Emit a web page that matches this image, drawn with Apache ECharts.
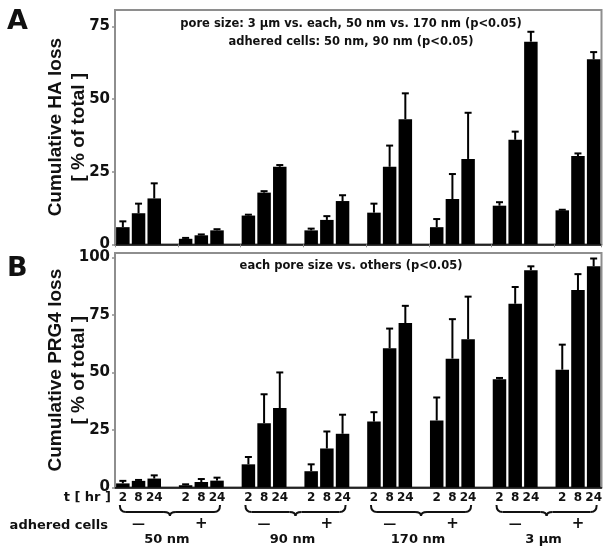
<!DOCTYPE html>
<html><head><meta charset="utf-8">
<script src="https://cdn.jsdelivr.net/npm/echarts@6/dist/echarts.min.js"></script>
<style>html,body{margin:0;padding:0;background:#fff}#c{width:612px;height:556px}</style>
</head><body><div id="c"></div>
<script>
const timeLabels = ['2', '8', '24'];
const poreSizes = ['50 nm', '90 nm', '170 nm', '3 µm'];
const adheredMarks = ['—', '+'];
const annotA = ['pore size: 3 µm vs. each, 50 nm vs. 170 nm (p<0.05)', 'adhered cells: 50 nm, 90 nm (p<0.05)'];
const annotB = 'each pore size vs. others (p<0.05)';
const titleA = 'Cumulative HA loss\n[ % of total ]';
const titleB = 'Cumulative PRG4 loss\n[ % of total ]';

// order: 50nm(-), 50nm(+), 90nm(-), 90nm(+), 170nm(-), 170nm(+), 3um(-), 3um(+); each 2, 8, 24 hr
const haMean  = [5.9, 10.7, 15.8,  1.9, 3.1, 4.8,  9.9, 17.8, 26.7,  4.8, 8.4, 14.9,
                 10.9, 26.7, 43.1,  5.9, 15.6, 29.4,  13.3, 36.0, 69.8,  11.7, 30.4, 63.7];
const haUpper = [7.9, 14.0, 21.0,  2.2, 3.4, 5.2,  10.2, 18.3, 27.3,  5.4, 9.7, 16.9,
                 14.0, 34.0, 52.0,  8.7, 24.2, 45.3,  14.5, 38.8, 73.2,  11.9, 31.3, 66.2];
const prgMean  = [1.7, 2.8, 3.8,  0.9, 2.3, 2.9,  10.0, 27.9, 34.5,  7.0, 16.9, 23.3,
                  28.6, 60.5, 71.5,  29.1, 56.0, 64.5,  47.0, 79.9, 94.5,  51.2, 85.9, 96.2];
const prgUpper = [2.8, 3.2, 5.2,  1.3, 3.6, 4.2,  13.2, 40.5, 50.0,  10.0, 24.3, 31.6,
                  32.7, 69.1, 79.0,  39.1, 73.2, 83.0,  47.6, 87.2, 96.2,  62.1, 92.8, 99.6];

// slots: 8 groups of 3 bars, separated by one empty slot
const slotLabels = [];
const slotOf = [];
for (let g = 0; g < 8; g++) {
  for (let t = 0; t < 3; t++) { slotOf.push(slotLabels.length); slotLabels.push(timeLabels[t]); }
  if (g < 7) slotLabels.push('');
}
function barData(vals) {
  const d = slotLabels.map(() => '-');
  vals.forEach((v, i) => { d[slotOf[i]] = v; });
  return d;
}
function errData(m, u) { return m.map((v, i) => [slotOf[i], v, u[i]]); }

function renderErr(params, api) {
  const x = api.value(0), m = api.value(1), u = api.value(2);
  const p1 = api.coord([x, m]);
  const p2 = api.coord([x, u]);
  const cap = 3.5;
  return { type: 'group', children: [
    { type: 'line', shape: { x1: p1[0], y1: p1[1], x2: p2[0], y2: p2[1] }, style: { stroke: '#000', lineWidth: 2 } },
    { type: 'line', shape: { x1: p2[0] - cap, y1: p2[1], x2: p2[0] + cap, y2: p2[1] }, style: { stroke: '#000', lineWidth: 2 } }
  ]};
}

const FONT = 'DejaVu Sans';
const TFONT = 'Liberation Sans';
const gray = '#8e8e8e';

const chart = echarts.init(document.getElementById('c'), null, { renderer: 'canvas' });

function yAxisCfg(grid, max, name) {
  return {
    type: 'value', gridIndex: grid, min: 0, max: max, interval: 25,
    axisLine: { show: true, lineStyle: { color: gray, width: 2 } },
    axisTick: { show: true, length: 3, lineStyle: { color: gray, width: 1.5 } },
    splitLine: { show: false },
    axisLabel: { margin: 5, color: '#111', fontFamily: FONT, fontWeight: 'bold', fontSize: 15,
      showMaxLabel: false, formatter: v => (v % 25 === 0 ? String(v) : '') },
    name: name, nameLocation: 'middle', nameGap: 25, nameRotate: 90, nameMoveOverlap: false,
    nameTextStyle: { fontFamily: TFONT, fontWeight: 'bold', fontSize: 19, lineHeight: 23, color: '#111' }
  };
}

chart.setOption({
  animation: false,
  backgroundColor: '#fff',
  grid: [
    { left: 115, right: 10.5, top: 10, height: 234.3, show: true, borderColor: gray, borderWidth: 2 },
    { left: 115, right: 10.5, top: 253, height: 234.3, show: true, borderColor: gray, borderWidth: 2 }
  ],
  xAxis: [
    { type: 'category', gridIndex: 0, data: slotLabels, boundaryGap: true,
      axisLine: { lineStyle: { color: '#000', width: 1.5 } },
      axisTick: { show: true, length: 3, interval: (i) => i % 4 === 0, lineStyle: { color: gray } },
      axisLabel: { show: false } },
    { type: 'category', gridIndex: 1, data: slotLabels, boundaryGap: true,
      axisLine: { lineStyle: { color: '#000', width: 1.5 } },
      axisTick: { show: false },
      axisLabel: { show: true, interval: 0, margin: 5, color: '#111', fontFamily: FONT, fontWeight: 'bold', fontSize: 12 } }
  ],
  yAxis: [ yAxisCfg(0, 80.7, titleA), yAxisCfg(1, 102, titleB) ],
  series: [
    { type: 'bar', xAxisIndex: 0, yAxisIndex: 0, data: barData(haMean), barWidth: 13.5, itemStyle: { color: '#000' } },
    { type: 'custom', xAxisIndex: 0, yAxisIndex: 0, data: errData(haMean, haUpper), renderItem: renderErr, encode: { x: 0, y: 1 }, z: 5 },
    { type: 'bar', xAxisIndex: 1, yAxisIndex: 1, data: barData(prgMean), barWidth: 13.5, itemStyle: { color: '#000' } },
    { type: 'custom', xAxisIndex: 1, yAxisIndex: 1, data: errData(prgMean, prgUpper), renderItem: renderErr, encode: { x: 0, y: 1 }, z: 5 }
  ]
});

// annotations placed relative to the bottom axis positions
const px = (i) => chart.convertToPixel({ xAxisIndex: 1 }, i);
const textStyle = (extra) => Object.assign({ fontFamily: FONT, fontWeight: 'bold', fill: '#111' }, extra);
const g = [];
const txt = (x, y, extra) => g.push({ type: 'text', x: x, y: y, style: textStyle(extra) });
txt(7, 8, { text: 'A', fontSize: 27, align: 'left', verticalAlign: 'top' });
txt(7, 255, { text: 'B', fontSize: 27, align: 'left', verticalAlign: 'top' });
txt(351, 24, { text: annotA[0], fontSize: 11.5, align: 'center', verticalAlign: 'middle' });
txt(351, 42, { text: annotA[1], fontSize: 11.5, align: 'center', verticalAlign: 'middle' });
txt(351, 266, { text: annotB, fontSize: 11.5, align: 'center', verticalAlign: 'middle' });
txt(111, 498, { text: 't [ hr ]', fontSize: 13, align: 'right', verticalAlign: 'middle' });
txt(108, 526, { text: 'adhered cells', fontSize: 13, align: 'right', verticalAlign: 'middle' });

const braceStyle = { stroke: '#111', lineWidth: 2, fill: null };
const curve = (xa, ya, xb, yb, cx, cy) => g.push({ type: 'bezierCurve',
  shape: { x1: xa, y1: ya, x2: xb, y2: yb, cpx1: cx, cpy1: cy }, style: braceStyle });
const seg = (xa, ya, xb, yb) => g.push({ type: 'line', shape: { x1: xa, y1: ya, x2: xb, y2: yb }, style: braceStyle });

for (let p = 0; p < 4; p++) {
  const gA = 2 * p, gB = 2 * p + 1;
  const first = slotOf[gA * 3], last = slotOf[gB * 3 + 2];
  const x1 = px(first) - 3, x2 = px(last) + 3, xm = (x1 + x2) / 2;
  const y0 = 505, y1 = 512, y2 = 516, r = 6;
  curve(x1, y0, x1 + r, y1, x1, y1);
  seg(x1 + r, y1, xm - r, y1);
  curve(xm - r, y1, xm, y2, xm, y1);
  curve(xm, y2, xm + r, y1, xm, y1);
  seg(xm + r, y1, x2 - r, y1);
  curve(x2 - r, y1, x2, y0, x2, y1);
  txt(px(slotOf[gA * 3 + 1]), 525, { text: adheredMarks[0], fontSize: 13, align: 'center', verticalAlign: 'middle' });
  txt(px(slotOf[gB * 3 + 1]), 524, { text: adheredMarks[1], fontSize: 15, align: 'center', verticalAlign: 'middle' });
  txt(xm - 3, 540, { text: poreSizes[p], fontSize: 13, align: 'center', verticalAlign: 'middle' });
}
chart.setOption({ graphic: g });
</script></body></html>
